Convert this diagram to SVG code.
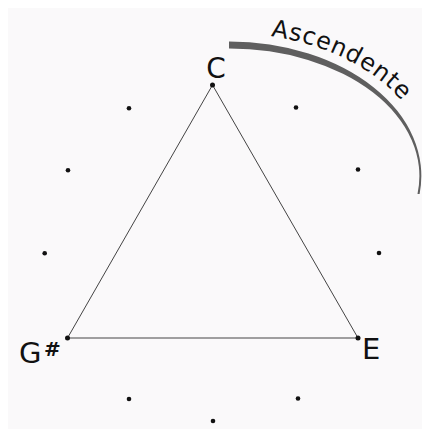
<svg xmlns="http://www.w3.org/2000/svg" xmlns:xlink="http://www.w3.org/1999/xlink" width="422" height="429" viewBox="0 0 422 429">
  <style>
    .dot { fill: #111; }
    .edge { stroke: #444; stroke-width: 1; fill: none; }
    .label { font-family: "DejaVu Sans", "Liberation Sans", sans-serif; fill: #111; }
  </style>
  <defs>
    <path id="textArc" d="M229,33 A203,143 0 0 1 432,176"/>
  </defs>
  <rect width="422" height="429" fill="#ffffff"/>
  <rect x="8" y="8" width="414" height="421" fill="#faf9fa"/>

  <g id="arc">
    <path d="M229,41.5 A192,134.5 0 0 1 419.6,194 L417.5,194 A190,127.5 0 0 0 229,48.5 Z" fill="#5f5f5f"/>
    <text class="label" font-size="24" letter-spacing="0.8"><textPath xlink:href="#textArc" startOffset="42">Ascendente</textPath></text>
  </g>

  <g id="connectors">
    <line class="edge" x1="212.5" y1="85" x2="358" y2="338"/>
    <line class="edge" x1="358" y1="338" x2="67.5" y2="338"/>
    <line class="edge" x1="67.5" y1="338" x2="212.5" y2="85"/>
  </g>

  <g id="node-C">
    <circle class="dot" cx="212.5" cy="85" r="2.5"/>
    <text class="label" x="216" y="78" font-size="28" text-anchor="middle">C</text>
  </g>
  <g id="node-E">
    <circle class="dot" cx="358" cy="338" r="2.5"/>
    <text class="label" x="362" y="359" font-size="29">E</text>
  </g>
  <g id="node-Gs">
    <circle class="dot" cx="67.5" cy="338" r="2.5"/>
    <text class="label" x="19" y="363" font-size="29">G</text>
    <text class="label" x="44" y="356" font-size="20" font-weight="bold">#</text>
  </g>

  <g id="dots">
    <circle class="dot" cx="296" cy="107.5" r="2.3"/>
    <circle class="dot" cx="358" cy="169.5" r="2.3"/>
    <circle class="dot" cx="379" cy="253" r="2.3"/>
    <circle class="dot" cx="298" cy="398.5" r="2.3"/>
    <circle class="dot" cx="213" cy="421" r="2.3"/>
    <circle class="dot" cx="129" cy="399" r="2.3"/>
    <circle class="dot" cx="44.7" cy="253.3" r="2.3"/>
    <circle class="dot" cx="68" cy="170.3" r="2.3"/>
    <circle class="dot" cx="129" cy="108.3" r="2.3"/>
  </g>
</svg>
